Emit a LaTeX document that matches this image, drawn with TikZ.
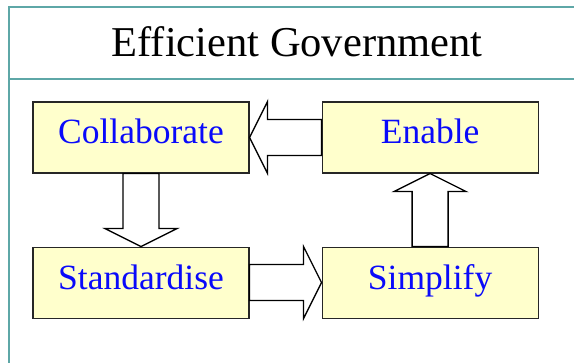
\documentclass[tikz,border=0pt]{standalone}
\usepackage{fontspec}
\setmainfont{Liberation Serif}
\usepackage{xcolor}
\usetikzlibrary{positioning}

\definecolor{frameteal}{RGB}{94,167,167}
\definecolor{boxyellow}{RGB}{255,255,204}
\definecolor{labelblue}{RGB}{10,10,250}

\begin{document}
\begin{tikzpicture}[x=1pt, y=1pt,
  box/.style={draw=black!85, line width=1.1pt, fill=boxyellow, minimum width=216pt,
              minimum height=71pt, inner sep=0pt, text=labelblue,
              text height=23pt, text depth=10pt,
              font=\fontsize{35.5}{42}\selectfont},
  blk/.style={draw, line width=1.3pt, fill=white, line join=miter},
  frame/.style={draw=frameteal, line width=1.8pt}
]
  \useasboundingbox (0,0) rectangle (574,363);

  % slide frame and title bar
  \draw[frame] (9,0) -- (9,356) -- (574,356);
  \draw[frame] (9,284) -- (574,284);
  \node[font=\fontsize{42.5}{50}\selectfont] (title) at (297,321) {Efficient Government};

  % the four stages
  \node[box] (collab) at (141,225.5) {Collaborate};
  \node[box, right=72pt of collab] (enable) {Enable};
  \node[box, below=73pt of collab] (stand) {Standardise};
  \node[box, right=72pt of stand] (simp) {Simplify};

  % block arrows between the stages
  \draw[blk] (enable.west) ++(0,18) -- ++(-54,0) -- ++(0,18) -- (collab.east)
    -- ++(18,-36) -- ++(0,18) -- ++(54,0) -- cycle;
  \draw[blk] (collab.south) ++(-18,0) -- ++(0,-55) -- ++(-18,0) -- (stand.north)
    -- ++(36,18) -- ++(-18,0) -- ++(0,55) -- cycle;
  \draw[blk] (stand.east) ++(0,18) -- ++(54,0) -- ++(0,18) -- (simp.west)
    -- ++(-18,-36) -- ++(0,18) -- ++(-54,0) -- cycle;
  \draw[blk] (simp.north) ++(-18,0) -- ++(0,55) -- ++(-18,0) -- (enable.south)
    -- ++(36,-18) -- ++(-18,0) -- ++(0,-55) -- cycle;
\end{tikzpicture}
\end{document}
